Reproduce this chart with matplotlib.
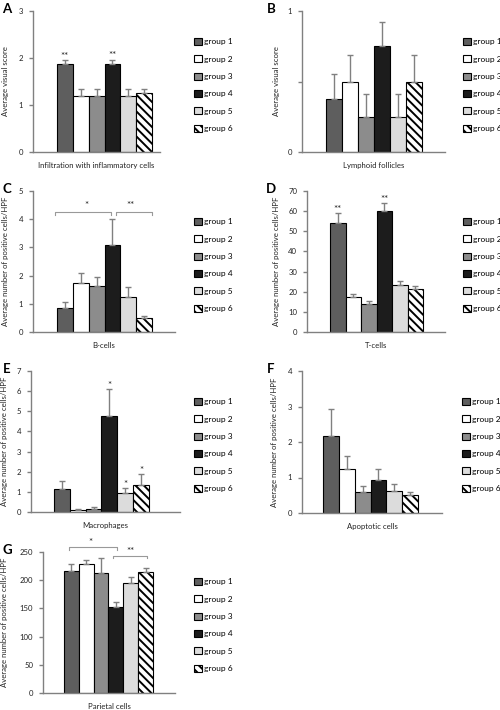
import numpy as np
import matplotlib
matplotlib.use("Agg")
import matplotlib.pyplot as plt

plt.rcParams['font.family'] = ['Lato', 'DejaVu Sans']
plt.rcParams['hatch.linewidth'] = 1.4

groups = ["group 1", "group 2", "group 3", "group 4", "group 5", "group 6"]

# values and upper error bars per panel
A_vals = [1.88, 1.20, 1.20, 1.88, 1.20, 1.25]
A_err = [0.07, 0.13, 0.13, 0.08, 0.13, 0.10]
B_vals = [0.375, 0.50, 0.25, 0.75, 0.25, 0.50]
B_err = [0.18, 0.19, 0.16, 0.17, 0.16, 0.19]
C_vals = [0.85, 1.74, 1.64, 3.07, 1.23, 0.48]
C_err = [0.23, 0.35, 0.31, 0.93, 0.36, 0.09]
D_vals = [54.0, 17.3, 14.0, 60.2, 23.5, 21.3]
D_err = [5.0, 1.5, 1.2, 3.8, 1.6, 1.7]
E_vals = [1.14, 0.08, 0.15, 4.75, 0.94, 1.35]
E_err = [0.38, 0.07, 0.08, 1.36, 0.25, 0.52]
F_vals = [2.17, 1.23, 0.60, 0.94, 0.62, 0.50]
F_err = [0.77, 0.37, 0.15, 0.29, 0.19, 0.09]
G_vals = [215.5, 229.5, 212.0, 152.5, 195.0, 214.0]
G_err = [14.0, 6.5, 26.5, 8.5, 11.0, 8.5]

fills = ['#5e5e5e', '#ffffff', '#8c8c8c', '#1c1c1c', '#dcdcdc', '#ffffff']
hatches = [None, None, None, None, None, '\\\\\\\\']

W, H = 500, 710
fig = plt.figure(figsize=(W / 100, H / 100), dpi=100)

FS_LAB = 5.6
FS_TICK = 5.6
FS_LEG = 6.0
TXT = '#222222'


def make_panel(letter, box, bars_px, vals, errs, ylim, yticks, ylabel, xlabel,
               legend_px, letter_px, ylabel_x, yticklabels=None):
    left, top, right, bottom = box
    ax = fig.add_axes([left / W, 1 - bottom / H, (right - left) / W, (bottom - top) / H])
    bl, br = bars_px
    unit = (br - bl) / 6.0
    xmin = -0.5 - (bl - left) / unit
    xmax = 5.5 + (right - br) / unit
    x = np.arange(6)
    errs_arr = np.array(errs)
    bars = ax.bar(x, vals, width=1.0, color=fills, edgecolor='black', linewidth=0.8,
                  yerr=[np.zeros(6), errs_arr], ecolor='#808080',
                  error_kw=dict(elinewidth=1.0, capsize=2.3, capthick=1.0),
                  label=groups, zorder=2)
    for b, h in zip(bars.patches, hatches):
        if h:
            b.set_hatch(h)
    ax.set_xlim(xmin, xmax)
    ax.set_ylim(*ylim)
    ax.set_yticks(yticks)
    if yticklabels is not None:
        ax.set_yticklabels(yticklabels)
    ax.set_xticks([])
    for s in ['top', 'right']:
        ax.spines[s].set_visible(False)
    for s in ['left', 'bottom']:
        ax.spines[s].set_color('#808080')
        ax.spines[s].set_linewidth(1.0)
    ax.tick_params(axis='y', direction='out', length=3, width=1.0, color='#808080',
                   labelsize=FS_TICK, pad=4, labelcolor=TXT)
    ax.set_xlabel(xlabel, fontsize=FS_LAB, labelpad=7, color=TXT)
    ax.set_ylabel(ylabel, fontsize=FS_LAB, color=TXT, va='center')
    ax.yaxis.set_label_coords((ylabel_x - left) / (right - left), 0.5)
    lx, ly = legend_px
    ax.legend(handles=list(bars.patches), labels=groups, loc='upper left',
              bbox_to_anchor=(lx / W, 1 - ly / H), bbox_transform=fig.transFigure,
              frameon=False, fontsize=FS_LEG, handlelength=0.9, handleheight=0.9,
              handletextpad=0.25, labelspacing=1.2, borderpad=0, borderaxespad=0)
    fig.text(letter_px[0] / W, 1 - letter_px[1] / H, letter, fontsize=9.5,
             fontweight='bold', ha='center', va='center')
    return ax, x, np.array(vals) + errs_arr


def stars(ax, xs, tops, s, off=1.0):
    for xx in xs:
        ax.annotate(s, xy=(xx, tops[xx]), xytext=(0, off), textcoords='offset points',
                    ha='center', va='baseline', fontsize=7, color=TXT)


def bracket(ax, x0, x1, y, drop, s, sx, sy):
    ax.plot([x0, x0, x1, x1], [y - drop, y, y, y - drop], color='#999999', lw=0.8,
            clip_on=False)
    ax.text(sx, sy, s, ha='center', va='center', fontsize=7, color=TXT)


# A
ax, x, tops = make_panel('A', (33, 11, 160, 152), (57, 152), A_vals, A_err, (0, 3),
                         [0, 1, 2, 3], 'Average visual score',
                         'Infiltration with inflammatory cells', (194, 38), (7, 9), 6)
stars(ax, [0, 3], tops, '**')

# B
ax, x, tops = make_panel('B', (302, 11, 445, 152), (326, 422), B_vals, B_err, (0, 1),
                         [0, 0.5, 1], 'Average visual score', 'Lymphoid follicles',
                         (463, 38), (271, 9), 277, yticklabels=['0', '', '1'])

# C
ax, x, tops = make_panel('C', (33, 191, 175, 332), (57, 152), C_vals, C_err, (0, 5),
                         [0, 1, 2, 3, 4, 5], 'Average number of positive cells/HPF',
                         'B-cells', (194, 218), (7, 189), 6)
bracket(ax, -0.65, 2.9, 4.25, 0.1, '*', 1.35, 4.5)
bracket(ax, 3.2, 5.5, 4.25, 0.1, '**', 4.15, 4.5)

# D
ax, x, tops = make_panel('D', (307, 191, 445, 332), (330, 423), D_vals, D_err, (0, 70),
                         list(range(0, 71, 10)), 'Average number of positive cells/HPF',
                         'T-cells', (463, 218), (271, 189), 276)
stars(ax, [0, 3], tops, '**')

# E
ax, x, tops = make_panel('E', (31, 371, 180, 512), (54, 149), E_vals, E_err, (0, 7),
                         list(range(0, 8)), 'Average number of positive cells/HPF',
                         'Macrophages', (194, 398), (7, 369), 5)
stars(ax, [3, 4, 5], tops, '*')

# F
ax, x, tops = make_panel('F', (302, 371, 442, 513), (323, 418), F_vals, F_err, (0, 4),
                         [0, 1, 2, 3, 4], 'Average number of positive cells/HPF',
                         'Apoptotic cells', (462, 398), (271, 369), 274)

# G
ax, x, tops = make_panel('G', (43, 552, 175, 693), (64, 153), G_vals, G_err, (0, 250),
                         list(range(0, 251, 50)), 'Average number of positive cells/HPF',
                         'Parietal cells', (194, 578), (7, 550), 5)
bracket(ax, -0.16, 3.07, 259, 6, '*', 1.25, 266)
bracket(ax, 2.8, 5.1, 243.5, 5, '**', 3.95, 250)

fig.savefig('out.png', dpi=100)
